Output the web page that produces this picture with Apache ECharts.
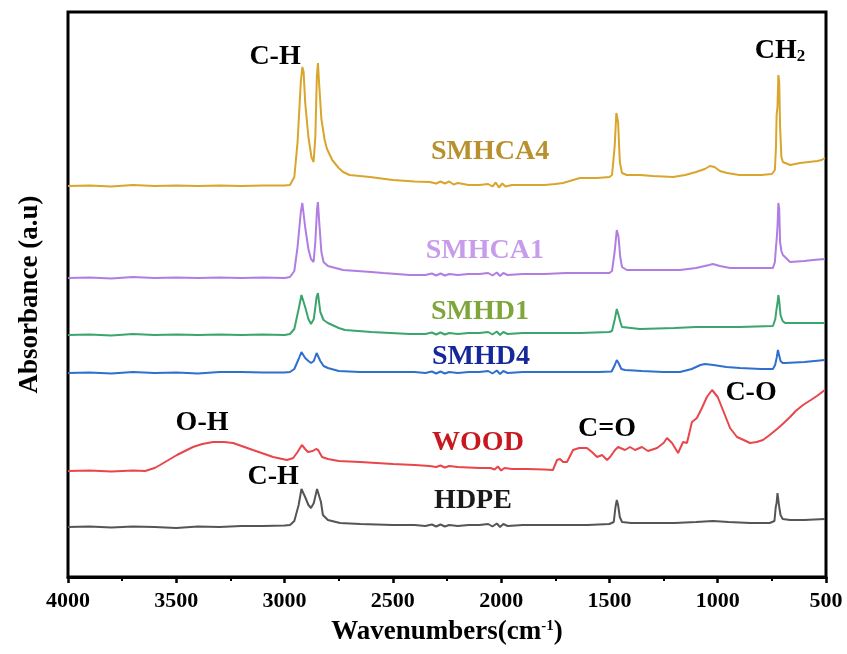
<!DOCTYPE html>
<html>
<head>
<meta charset="utf-8">
<script src="https://cdn.jsdelivr.net/npm/echarts@6/dist/echarts.min.js"></script>
<style>
  html, body { margin: 0; padding: 0; background: #fff; }
  #chart { width: 847px; height: 654px; }
</style>
</head>
<body>
<div id="chart"></div>
<script>
// FTIR spectra, [wavenumber, stacked absorbance (a.u.)]
const hdpe = [[4000,50],[3900,50.5],[3800,49.5],[3700,50.5],[3600,50],[3500,49],[3400,50.5],[3300,50],[3200,51],[3100,51],[3000,51.5],[2975,52],[2955,56],[2935,72],[2922,88],[2915,90],[2905,80],[2890,72],[2878,69],[2865,74],[2850,88],[2841,90],[2832,75],[2823,62],[2800,57],[2744,54],[2650,53],[2500,52],[2400,52],[2350,51],[2320,52.5],[2300,50.5],[2280,52.5],[2260,50.5],[2240,52],[2200,51],[2150,52],[2100,52],[2060,53],[2040,50.5],[2020,53.5],[2005,50],[1990,53],[1970,51],[1900,52],[1800,52],[1728,52],[1600,52],[1500,53],[1480,55],[1472,70],[1466,77],[1460,72],[1452,60],[1442,55],[1400,54],[1300,54],[1200,54],[1100,55],[1022,56],[950,55],[850,54],[760,54],[738,56],[732,70],[728,74],[724,84],[720,82],[716,70],[710,62],[700,58],[666,57],[600,57],[505,58]];

const wood = [[4000,106],[3900,106.5],[3800,105.5],[3700,106.5],[3644,106],[3600,109],[3575,112],[3497,122],[3423,130],[3380,133],[3330,135],[3280,135],[3238,134],[3146,127],[3053,120],[2989,117],[2960,119],[2940,125],[2920,132],[2905,128],[2892,125],[2870,126],[2855,128],[2845,127],[2827,120],[2800,118],[2750,116],[2652,115],[2499,113],[2400,112],[2330,111],[2300,110],[2280,111.5],[2260,109.5],[2240,111],[2200,110],[2100,109],[2050,109],[2030,107.5],[2015,110.5],[2000,106.5],[1985,109],[1950,108],[1881,108],[1800,107.5],[1761,107],[1742,117],[1728,118],[1714,115],[1696,115],[1668,127],[1640,129],[1604,129],[1581,125],[1557,120],[1534,122],[1511,117],[1497,120],[1474,127],[1460,130],[1428,127],[1405,130],[1382,127],[1350,130],[1322,126],[1280,129],[1250,134],[1234,139],[1211,134],[1183,124],[1160,135],[1142,134],[1119,155],[1096,159],[1073,169],[1050,180],[1026,187],[1000,180],[976,167],[943,149],[911,140],[880,137],[851,134],[820,135],[791,137],[760,142],[726,148],[700,153],[666,160],[640,166],[606,172],[570,177],[542,181],[505,187]];

const smhd4 = [[4000,204],[3900,204.5],[3800,203.5],[3700,205],[3600,204],[3500,204.5],[3400,203.5],[3300,205],[3200,205],[3100,204.5],[3000,204.5],[2975,205],[2955,208],[2935,218],[2922,225],[2915,224],[2905,219],[2890,216],[2878,214],[2865,216],[2852,224],[2846,226],[2835,216],[2820,211],[2800,209],[2750,206],[2652,205],[2500,205],[2400,205],[2350,204],[2320,205.5],[2300,203.5],[2280,205.5],[2260,203.5],[2240,205],[2200,204],[2150,205],[2100,205],[2060,206],[2040,203.5],[2020,206.5],[2005,203],[1990,206],[1970,204],[1900,205],[1800,205],[1700,205],[1636,205],[1550,205],[1490,205.5],[1475,212],[1466,217],[1458,214],[1445,208],[1428,207],[1350,206],[1250,205],[1174,205],[1120,208],[1080,212],[1059,213],[1020,212],[960,210],[897,209],[800,208],[745,208],[735,212],[728,219],[722,227],[717,225],[710,216],[700,214],[689,214],[600,215],[505,217]];

const smhd1 = [[4000,242],[3900,242.5],[3800,241.5],[3700,243],[3600,242],[3500,242.5],[3400,242],[3300,242.5],[3200,242],[3100,242.5],[3000,242],[2975,243],[2955,248],[2935,268],[2922,282],[2915,284],[2905,270],[2890,258],[2878,253],[2865,258],[2852,280],[2846,284],[2835,265],[2820,257],[2800,254],[2750,249],[2721,247],[2600,245],[2421,243],[2350,243],[2320,244.5],[2300,242.5],[2280,244.5],[2260,242.5],[2240,244],[2200,243],[2150,244],[2100,244],[2060,245],[2040,242.5],[2020,245.5],[2005,242],[1990,245],[1970,243],[1900,244],[1800,244],[1700,244],[1636,244],[1500,245],[1488,246],[1475,258],[1466,268],[1458,262],[1448,254],[1442,250],[1359,248],[1200,249],[1100,250],[1022,250],[900,250],[745,251],[734,258],[729,267],[724,274],[720,282],[716,276],[710,262],[700,256],[689,254],[600,254],[505,254]];

const smhca1 = [[4000,299],[3900,299.5],[3800,298.5],[3700,300],[3600,299],[3500,299.5],[3400,299],[3300,299.5],[3200,299],[3100,299.5],[3000,299],[2975,300],[2955,306],[2940,330],[2925,365],[2918,374],[2912,372],[2905,350],[2890,328],[2878,318],[2866,315],[2858,335],[2850,368],[2846,375],[2840,355],[2830,325],[2820,315],[2800,311],[2730,307],[2600,305],[2545,304],[2421,302],[2350,302],[2320,303.5],[2300,301.5],[2280,303.5],[2260,301.5],[2240,303],[2200,302],[2150,303],[2100,303],[2060,304],[2040,301.5],[2020,304.5],[2005,301],[1990,304],[1970,302],[1900,303],[1800,303],[1700,304],[1636,304],[1500,304],[1488,306],[1476,325],[1466,347],[1458,340],[1450,320],[1442,310],[1420,307],[1391,307],[1300,307],[1174,307],[1100,309],[1040,312],[1022,313],[990,311],[943,309],[850,309],[745,309],[736,315],[731,330],[728,337],[724,350],[720,374],[716,368],[712,335],[706,326],[699,322],[680,318],[666,315],[600,316],[560,317],[505,318]];

const smhca4 = [[4000,391],[3900,391.5],[3800,390.5],[3700,392],[3600,391],[3500,391.5],[3400,391],[3300,391.5],[3200,391],[3100,391.5],[3000,391.5],[2975,392],[2955,400],[2940,435],[2925,495],[2918,510],[2912,505],[2905,475],[2890,440],[2876,420],[2866,415],[2858,440],[2851,500],[2846,514],[2840,492],[2830,458],[2815,437],[2804,428],[2780,417],[2750,409],[2730,405],[2700,402],[2606,400],[2500,397],[2400,395.5],[2330,395],[2300,393.5],[2280,395.5],[2260,393.5],[2240,395.5],[2220,392.5],[2200,394],[2150,392],[2100,392],[2060,393],[2040,390.5],[2025,394.5],[2010,389.5],[1995,393.5],[1980,390.5],[1950,392],[1900,392],[1800,392],[1750,393],[1714,394],[1636,399],[1557,399],[1500,400],[1488,402],[1476,430],[1468,464],[1460,455],[1452,415],[1442,404],[1420,402],[1359,402],[1300,401],[1206,400],[1150,402],[1100,405],[1060,408],[1036,411],[1015,410],[990,406],[957,404],[900,402],[800,402],[750,403],[736,407],[731,430],[728,462],[724,470],[720,502],[716,495],[712,450],[706,420],[699,415],[690,413],[666,412],[620,414],[580,415],[540,416],[520,417],[505,419]];

const seriesNames = ['HDPE', 'WOOD', 'SMHD4', 'SMHD1', 'SMHCA1', 'SMHCA4'];
const seriesData = [hdpe, wood, smhd4, smhd1, smhca1, smhca4];
const lineColors = ['#555555', '#E8464B', '#2F6FCF', '#3AA56C', '#B07DE3', '#D9A52C'];
const nameColors = ['#1a1a1a', '#C8171F', '#17289A', '#7FA63A', '#C79CEB', '#B8912E'];
// where each sample name sits, [wavenumber, a.u.]
const namePos = [[2130,76],[2107,134],[2093,220],[2098,265],[2075,326],[2051,425]];

// band assignments
const bandTexts = ['C-H', '{a|CH}{b|2}', 'O-H', 'C=O', 'C-O', 'C-H'];
const bandPos = [[3044,520],[712,526],[3381,154],[1511,148],[846,184],[3053,100]];

const xTicks = [4000, 3500, 3000, 2500, 2000, 1500, 1000, 500];

const chart = echarts.init(document.getElementById('chart'));
const serif = 'Liberation Serif';

const lines = seriesData.map((d, i) => ({
  name: seriesNames[i],
  type: 'line',
  data: d,
  showSymbol: false,
  symbol: 'none',
  lineStyle: { color: lineColors[i], width: 2 },
  z: 2,
  silent: true
}));

const textItems = namePos.map((p, i) => ({
  value: p,
  label: { formatter: seriesNames[i], color: nameColors[i] }
})).concat(bandPos.map((p, i) => ({
  value: p,
  label: { formatter: bandTexts[i], color: '#000' }
})));

const option = {
  backgroundColor: '#ffffff',
  animation: false,
  grid: {
    left: 68, right: 21, top: 12, bottom: 77,
    show: true, borderColor: '#000', borderWidth: 3, backgroundColor: 'transparent'
  },
  xAxis: {
    type: 'value',
    min: 500, max: 4000, interval: 500,
    inverse: true,
    name: '{a|Wavenumbers(cm}{s|-1}{a|)}',
    nameLocation: 'middle',
    nameGap: 42,
    nameTextStyle: {
      rich: {
        a: { fontFamily: serif, fontWeight: 'bold', fontSize: 27, color: '#000' },
        s: { fontFamily: serif, fontWeight: 'bold', fontSize: 15, color: '#000', verticalAlign: 'top', padding: [0, 0, 12, 0] }
      }
    },
    axisLine: { show: true, lineStyle: { color: '#000', width: 3 } },
    axisTick: { show: true, inside: false, length: 6, lineStyle: { color: '#000', width: 2.5 } },
    minorTick: { show: true, splitNumber: 2, length: 4, lineStyle: { color: '#000', width: 2 } },
    splitLine: { show: false },
    axisLabel: {
      margin: 13,
      fontFamily: serif, fontWeight: 'bold', fontSize: 22, color: '#000',
      formatter: v => (xTicks.indexOf(v) >= 0 ? String(v) : '')
    }
  },
  yAxis: {
    type: 'value',
    min: 0, max: 565,
    name: 'Absorbance (a.u)',
    nameLocation: 'middle',
    nameRotate: 90,
    nameGap: 24,
    nameTextStyle: { fontFamily: serif, fontWeight: 'bold', fontSize: 27, color: '#000' },
    axisLine: { show: false },
    axisTick: { show: false },
    axisLabel: { show: false },
    splitLine: { show: false }
  },
  series: lines.concat([{
    type: 'scatter',
    symbolSize: 0,
    silent: true,
    z: 5,
    itemStyle: { opacity: 1 },
    data: textItems,
    label: {
      show: true,
      position: 'inside',
      fontFamily: serif,
      fontWeight: 'bold',
      fontSize: 28,
      rich: {
        a: { fontFamily: serif, fontWeight: 'bold', fontSize: 28, color: '#000' },
        b: { fontFamily: serif, fontWeight: 'bold', fontSize: 17, color: '#000', verticalAlign: 'bottom', padding: [12, 0, 0, 0] }
      }
    }
  }])
};

chart.setOption(option);
</script>
</body>
</html>
